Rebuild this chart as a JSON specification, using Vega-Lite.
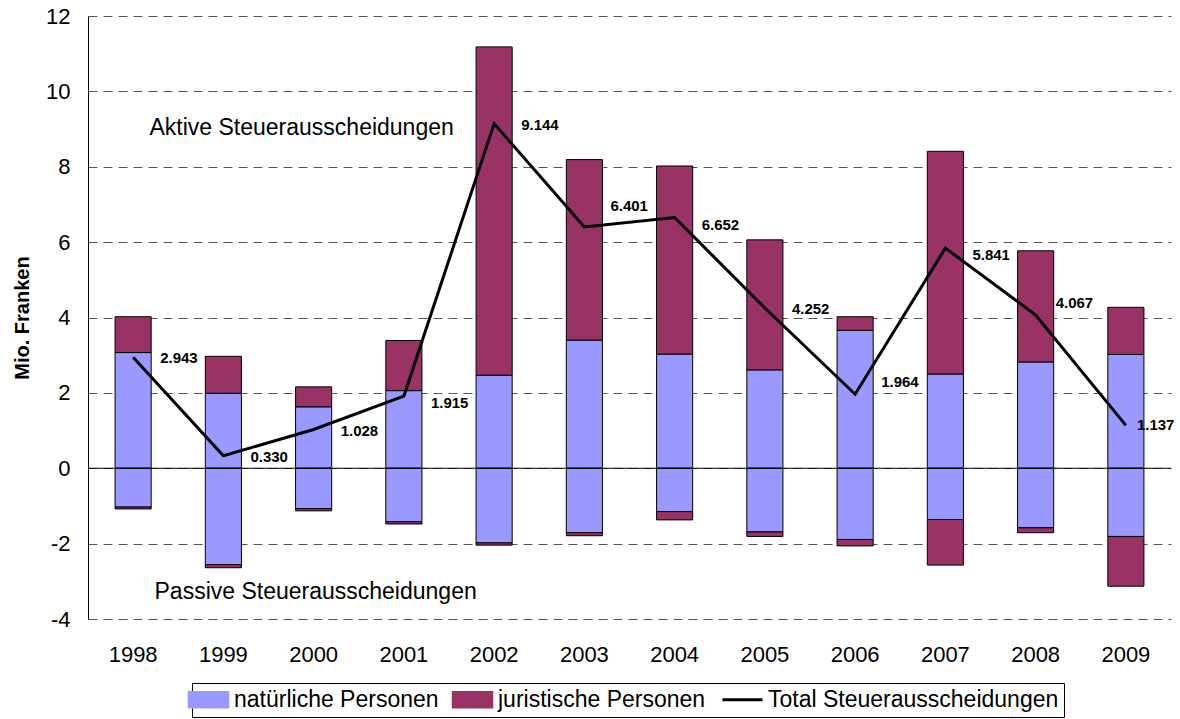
{
  "$schema": "https://vega.github.io/schema/vega-lite/v6.json",
  "autosize": "none",
  "width": 1083,
  "height": 603,
  "padding": {"left": 88, "top": 16, "right": 9, "bottom": 100},
  "background": "white",
  "config": {
    "font": "Liberation Sans",
    "view": {"stroke": null},
    "axis": {"labelFont": "Liberation Sans", "titleFont": "Liberation Sans"},
    "text": {"align": "left", "baseline": "middle", "fontSize": 15, "fontWeight": "bold", "color": "black"}
  },
  "datasets": {
    "bars": [
      {"year": "1998", "type": "natürliche Personen", "value": 3.07, "ord": 1},
      {"year": "1998", "type": "juristische Personen", "value": 0.95, "ord": 2},
      {"year": "1998", "type": "natürliche Personen", "value": -1.03, "ord": 1},
      {"year": "1998", "type": "juristische Personen", "value": -0.05, "ord": 2},
      {"year": "1999", "type": "natürliche Personen", "value": 1.99, "ord": 1},
      {"year": "1999", "type": "juristische Personen", "value": 0.98, "ord": 2},
      {"year": "1999", "type": "natürliche Personen", "value": -2.56, "ord": 1},
      {"year": "1999", "type": "juristische Personen", "value": -0.08, "ord": 2},
      {"year": "2000", "type": "natürliche Personen", "value": 1.63, "ord": 1},
      {"year": "2000", "type": "juristische Personen", "value": 0.53, "ord": 2},
      {"year": "2000", "type": "natürliche Personen", "value": -1.07, "ord": 1},
      {"year": "2000", "type": "juristische Personen", "value": -0.06, "ord": 2},
      {"year": "2001", "type": "natürliche Personen", "value": 2.06, "ord": 1},
      {"year": "2001", "type": "juristische Personen", "value": 1.33, "ord": 2},
      {"year": "2001", "type": "natürliche Personen", "value": -1.42, "ord": 1},
      {"year": "2001", "type": "juristische Personen", "value": -0.06, "ord": 2},
      {"year": "2002", "type": "natürliche Personen", "value": 2.47, "ord": 1},
      {"year": "2002", "type": "juristische Personen", "value": 8.71, "ord": 2},
      {"year": "2002", "type": "natürliche Personen", "value": -1.98, "ord": 1},
      {"year": "2002", "type": "juristische Personen", "value": -0.06, "ord": 2},
      {"year": "2003", "type": "natürliche Personen", "value": 3.40, "ord": 1},
      {"year": "2003", "type": "juristische Personen", "value": 4.79, "ord": 2},
      {"year": "2003", "type": "natürliche Personen", "value": -1.71, "ord": 1},
      {"year": "2003", "type": "juristische Personen", "value": -0.08, "ord": 2},
      {"year": "2004", "type": "natürliche Personen", "value": 3.03, "ord": 1},
      {"year": "2004", "type": "juristische Personen", "value": 4.99, "ord": 2},
      {"year": "2004", "type": "natürliche Personen", "value": -1.15, "ord": 1},
      {"year": "2004", "type": "juristische Personen", "value": -0.22, "ord": 2},
      {"year": "2005", "type": "natürliche Personen", "value": 2.61, "ord": 1},
      {"year": "2005", "type": "juristische Personen", "value": 3.45, "ord": 2},
      {"year": "2005", "type": "natürliche Personen", "value": -1.69, "ord": 1},
      {"year": "2005", "type": "juristische Personen", "value": -0.12, "ord": 2},
      {"year": "2006", "type": "natürliche Personen", "value": 3.66, "ord": 1},
      {"year": "2006", "type": "juristische Personen", "value": 0.36, "ord": 2},
      {"year": "2006", "type": "natürliche Personen", "value": -1.89, "ord": 1},
      {"year": "2006", "type": "juristische Personen", "value": -0.17, "ord": 2},
      {"year": "2007", "type": "natürliche Personen", "value": 2.50, "ord": 1},
      {"year": "2007", "type": "juristische Personen", "value": 5.91, "ord": 2},
      {"year": "2007", "type": "natürliche Personen", "value": -1.36, "ord": 1},
      {"year": "2007", "type": "juristische Personen", "value": -1.21, "ord": 2},
      {"year": "2008", "type": "natürliche Personen", "value": 2.82, "ord": 1},
      {"year": "2008", "type": "juristische Personen", "value": 2.95, "ord": 2},
      {"year": "2008", "type": "natürliche Personen", "value": -1.58, "ord": 1},
      {"year": "2008", "type": "juristische Personen", "value": -0.13, "ord": 2},
      {"year": "2009", "type": "natürliche Personen", "value": 3.02, "ord": 1},
      {"year": "2009", "type": "juristische Personen", "value": 1.25, "ord": 2},
      {"year": "2009", "type": "natürliche Personen", "value": -1.81, "ord": 1},
      {"year": "2009", "type": "juristische Personen", "value": -1.32, "ord": 2}
    ],
    "totals": [
      {"year": "1998", "total": 2.943, "series": "Total Steuerausscheidungen"},
      {"year": "1999", "total": 0.330, "series": "Total Steuerausscheidungen"},
      {"year": "2000", "total": 1.028, "series": "Total Steuerausscheidungen"},
      {"year": "2001", "total": 1.915, "series": "Total Steuerausscheidungen"},
      {"year": "2002", "total": 9.144, "series": "Total Steuerausscheidungen"},
      {"year": "2003", "total": 6.401, "series": "Total Steuerausscheidungen"},
      {"year": "2004", "total": 6.652, "series": "Total Steuerausscheidungen"},
      {"year": "2005", "total": 4.252, "series": "Total Steuerausscheidungen"},
      {"year": "2006", "total": 1.964, "series": "Total Steuerausscheidungen"},
      {"year": "2007", "total": 5.841, "series": "Total Steuerausscheidungen"},
      {"year": "2008", "total": 4.067, "series": "Total Steuerausscheidungen"},
      {"year": "2009", "total": 1.137, "series": "Total Steuerausscheidungen"}
    ],
    "notes": [
      {"year": "2000", "y": 9.03, "label": "Aktive Steuerausscheidungen", "kind": "aktiv"},
      {"year": "2000", "y": -3.29, "label": "Passive Steuerausscheidungen", "kind": "passiv"}
    ]
  },
  "encoding": {
    "x": {
      "field": "year", "type": "nominal",
      "scale": {"paddingInner": 0.6, "paddingOuter": 0.3},
      "axis": {"title": null, "labelAngle": 0, "domain": false, "ticks": false, "labelFontSize": 22, "labelPadding": 25, "labelColor": "black", "grid": false}
    }
  },
  "layer": [
    {
      "data": {"name": "bars"},
      "mark": {"type": "bar", "stroke": "black", "strokeWidth": 1},
      "encoding": {
        "y": {
          "field": "value", "type": "quantitative", "stack": "zero",
          "scale": {"domain": [-4, 12], "nice": false, "zero": false},
          "axis": {
            "title": "Mio. Franken", "titleFontSize": 20, "titleFontWeight": "bold", "titleColor": "black", "titlePadding": 13,
            "values": [-4, -2, 0, 2, 4, 6, 8, 10, 12],
            "labelExpr": "toString(datum.value)",
            "labelFontSize": 22, "labelColor": "black", "labelPadding": 18,
            "ticks": false, "domain": true, "domainColor": "black", "domainWidth": 1,
            "grid": true, "gridDash": [9, 6], "gridColor": "#555555", "gridWidth": 1
          }
        },
        "color": {
          "field": "type", "type": "nominal",
          "scale": {
            "domain": ["natürliche Personen", "juristische Personen", "Total Steuerausscheidungen"],
            "range": ["#9999FF", "#993366", "#000000"]
          },
          "legend": {
            "title": null, "orient": "none", "direction": "horizontal",
            "legendX": 104, "legendY": 667,
            "strokeColor": "black", "padding": 5,
            "labelFontSize": 23, "labelColor": "black", "labelFont": "Liberation Sans",
            "labelLimit": 500,
            "labelOffset": 14, "columnPadding": 10,
            "symbolSize": 1600,
            "symbolType": "M-1,-0.4H1V0.4H-1Z",
            "symbolStrokeColor": "black", "symbolStrokeWidth": 1.5,
            "encode": {
              "symbols": {
                "update": {
                  "shape": {"signal": "datum.value === 'Total Steuerausscheidungen' ? 'M-1,0H1' : 'M-1,-0.4H1V0.4H-1Z'"},
                  "strokeWidth": {"signal": "datum.value === 'Total Steuerausscheidungen' ? 3 : 1.5"},
                  "stroke": {"value": "black"},
                  "opacity": {"value": 1}
                }
              }
            }
          }
        },
        "order": {"field": "ord", "type": "quantitative"}
      }
    },
    {
      "data": {"values": [{"z": 0}]},
      "mark": {"type": "rule", "color": "black", "strokeWidth": 1},
      "encoding": {"y": {"field": "z", "type": "quantitative"}, "x": null}
    },
    {
      "data": {"name": "totals"},
      "mark": {"type": "line", "strokeWidth": 3},
      "encoding": {
        "y": {"field": "total", "type": "quantitative"},
        "color": {"field": "series", "type": "nominal"}
      }
    },
    {
      "data": {"name": "totals"},
      "transform": [{"filter": "indexof(['1998','1999','2000','2002','2005'], datum.year) >= 0"}],
      "mark": {"type": "text", "dx": 27, "dy": 1},
      "encoding": {
        "y": {"field": "total", "type": "quantitative"},
        "text": {"field": "total", "type": "quantitative", "format": ".3f"}
      }
    },
    {
      "data": {"name": "totals"},
      "transform": [{"filter": "indexof(['2001','2004','2007'], datum.year) >= 0"}],
      "mark": {"type": "text", "dx": 27, "dy": 7},
      "encoding": {
        "y": {"field": "total", "type": "quantitative"},
        "text": {"field": "total", "type": "quantitative", "format": ".3f"}
      }
    },
    {
      "data": {"name": "totals"},
      "transform": [{"filter": "datum.year === '2003'"}],
      "mark": {"type": "text", "dx": 26, "dy": -21},
      "encoding": {
        "y": {"field": "total", "type": "quantitative"},
        "text": {"field": "total", "type": "quantitative", "format": ".3f"}
      }
    },
    {
      "data": {"name": "totals"},
      "transform": [{"filter": "datum.year === '2006'"}],
      "mark": {"type": "text", "dx": 26, "dy": -12},
      "encoding": {
        "y": {"field": "total", "type": "quantitative"},
        "text": {"field": "total", "type": "quantitative", "format": ".3f"}
      }
    },
    {
      "data": {"name": "totals"},
      "transform": [{"filter": "datum.year === '2008'"}],
      "mark": {"type": "text", "dx": 20, "dy": -12},
      "encoding": {
        "y": {"field": "total", "type": "quantitative"},
        "text": {"field": "total", "type": "quantitative", "format": ".3f"}
      }
    },
    {
      "data": {"name": "totals"},
      "transform": [{"filter": "datum.year === '2009'"}],
      "mark": {"type": "text", "dx": 11, "dy": 0},
      "encoding": {
        "y": {"field": "total", "type": "quantitative"},
        "text": {"field": "total", "type": "quantitative", "format": ".3f"}
      }
    },
    {
      "data": {"name": "notes"},
      "transform": [{"filter": "datum.kind === 'aktiv'"}],
      "mark": {"type": "text", "align": "center", "dx": -12, "fontSize": 23, "fontWeight": "normal"},
      "encoding": {
        "y": {"field": "y", "type": "quantitative"},
        "text": {"field": "label"}
      }
    },
    {
      "data": {"name": "notes"},
      "transform": [{"filter": "datum.kind === 'passiv'"}],
      "mark": {"type": "text", "align": "center", "dx": 2, "fontSize": 23, "fontWeight": "normal"},
      "encoding": {
        "y": {"field": "y", "type": "quantitative"},
        "text": {"field": "label"}
      }
    }
  ]
}
